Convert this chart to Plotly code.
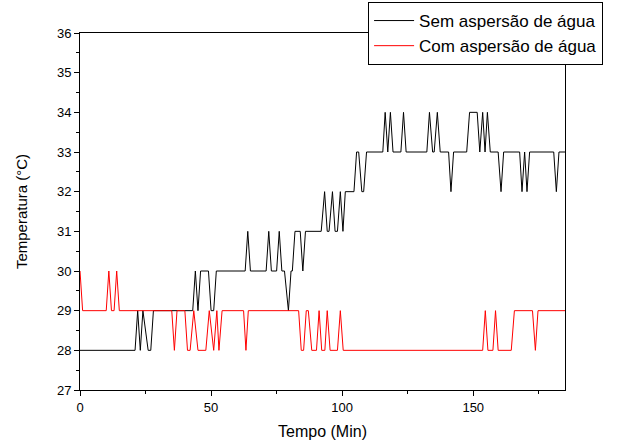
import plotly.graph_objects as go

# Vertex readings (time in min, temperature in °C)
sem_t = [0, 21, 22, 23, 24, 26, 27, 28, 43, 44, 45, 46, 49, 50, 51, 52, 63, 64, 65, 71, 72, 73, 75, 76, 77, 78,
         79.5, 80.5, 81, 82, 84, 85, 86, 92, 93.3, 94.3, 95, 96.3, 97.3, 98.2, 99.3, 100.3, 101.2, 104.5, 105.5,
         106.3, 107.5, 108.2, 109.3, 115.5, 116.4, 117.4, 118.4, 119.4, 122.4, 123.4, 124.4, 132.3, 133.3, 134.5,
         135.1, 136.3, 137.4, 140.6, 141.5, 142.5, 147.5, 148.6, 151.5, 152.5, 153.6, 154.5, 155.4, 156.5, 159.5,
         160.6, 161.6, 167.7, 168.6, 169.6, 170.5, 171.5, 180.7, 181.7, 182.7, 185]
sem_v = [28, 28, 29, 28, 29, 28, 28, 29, 29, 30, 29, 30, 30, 29, 29, 30, 30, 31, 30, 30, 31, 30, 30, 31, 30, 30,
         29, 30, 30, 31, 31, 30, 31, 31, 32, 31, 31, 32, 31, 31, 32, 31, 32, 32, 33,
         33, 32, 32, 33, 33, 34, 33, 34, 33, 33, 34, 33, 33, 34, 33,
         33, 34, 33, 33, 32, 33, 33, 34, 34, 33, 34, 33, 34, 33, 33,
         32, 33, 33, 32, 33, 32, 33, 33, 32, 33, 33]

com_t = [0, 1, 10, 11, 12, 13, 14, 15, 35, 36, 37, 40, 41, 42, 43.4, 45, 48, 49.3, 51, 52.2, 53, 54.2, 62.4, 63.3,
         64.2, 83.4, 84.4, 85.3, 86.3, 87.1, 88.4, 90.2, 91.2, 92.2, 93.4, 94.3, 95.4, 98.2, 99.3, 100.4, 153.6,
         154.6, 155.6, 157.5, 158.5, 159.5, 164.5, 165.7, 172.6, 173.7, 174.7, 185]
com_v = [30, 29, 29, 30, 29, 29, 30, 29, 29, 28, 29, 29, 28, 28, 29, 28, 28, 29, 28, 29, 28, 29, 29, 28,
         29, 29, 28, 28, 29, 29, 28, 28, 29, 28, 28, 29, 28, 28, 29, 28, 28,
         29, 28, 28, 29, 28, 28, 29, 29, 28, 29, 29]

x_ticks = [0, 50, 100, 150]
y_ticks = [27, 28, 29, 30, 31, 32, 33, 34, 35, 36]

FONT = "Liberation Sans, Arial, sans-serif"

fig = go.Figure()
fig.add_trace(go.Scatter(x=sem_t, y=sem_v, mode="lines", name="Sem aspersão de água",
                         line=dict(color="black", width=1)))
fig.add_trace(go.Scatter(x=com_t, y=com_v, mode="lines", name="Com aspersão de água",
                         line=dict(color="red", width=1)))

fig.update_layout(
    width=618, height=444,
    margin=dict(l=80, r=53, t=33, b=54, autoexpand=False),
    paper_bgcolor="white", plot_bgcolor="white",
    font=dict(family=FONT, color="black", size=13),
    showlegend=True,
    legend=dict(x=0.594, y=1.0868, xanchor="left", yanchor="top",
                bordercolor="black", borderwidth=1, bgcolor="white",
                font=dict(size=17, family=FONT), tracegroupgap=0,
                itemwidth=40),
)
fig.update_xaxes(
    range=[0, 185], tickvals=x_ticks, ticks="outside", ticklen=5, tickwidth=1, tickcolor="black",
    minor=dict(tickvals=[25, 75, 125, 175], ticks="outside", ticklen=3, tickcolor="black"),
    showline=True, linecolor="black", linewidth=1, mirror=True, showgrid=False, zeroline=False,
    title=dict(text="Tempo (Min)", font=dict(size=16), standoff=12),
    tickfont=dict(size=13), automargin=False,
)
fig.update_yaxes(
    range=[27, 36], tickvals=y_ticks, ticks="outside", ticklen=5, tickwidth=1, tickcolor="black",
    minor=dict(dtick=0.5, ticks="outside", ticklen=3, tickcolor="black"),
    showline=True, linecolor="black", linewidth=1, mirror=True, showgrid=False, zeroline=False,
    title=dict(text="Temperatura (°C)", font=dict(size=15), standoff=25),
    tickfont=dict(size=13), automargin=False,
)

fig.write_html("out.html", config={"displayModeBar": False},
               post_script="document.body.style.margin='0';")
